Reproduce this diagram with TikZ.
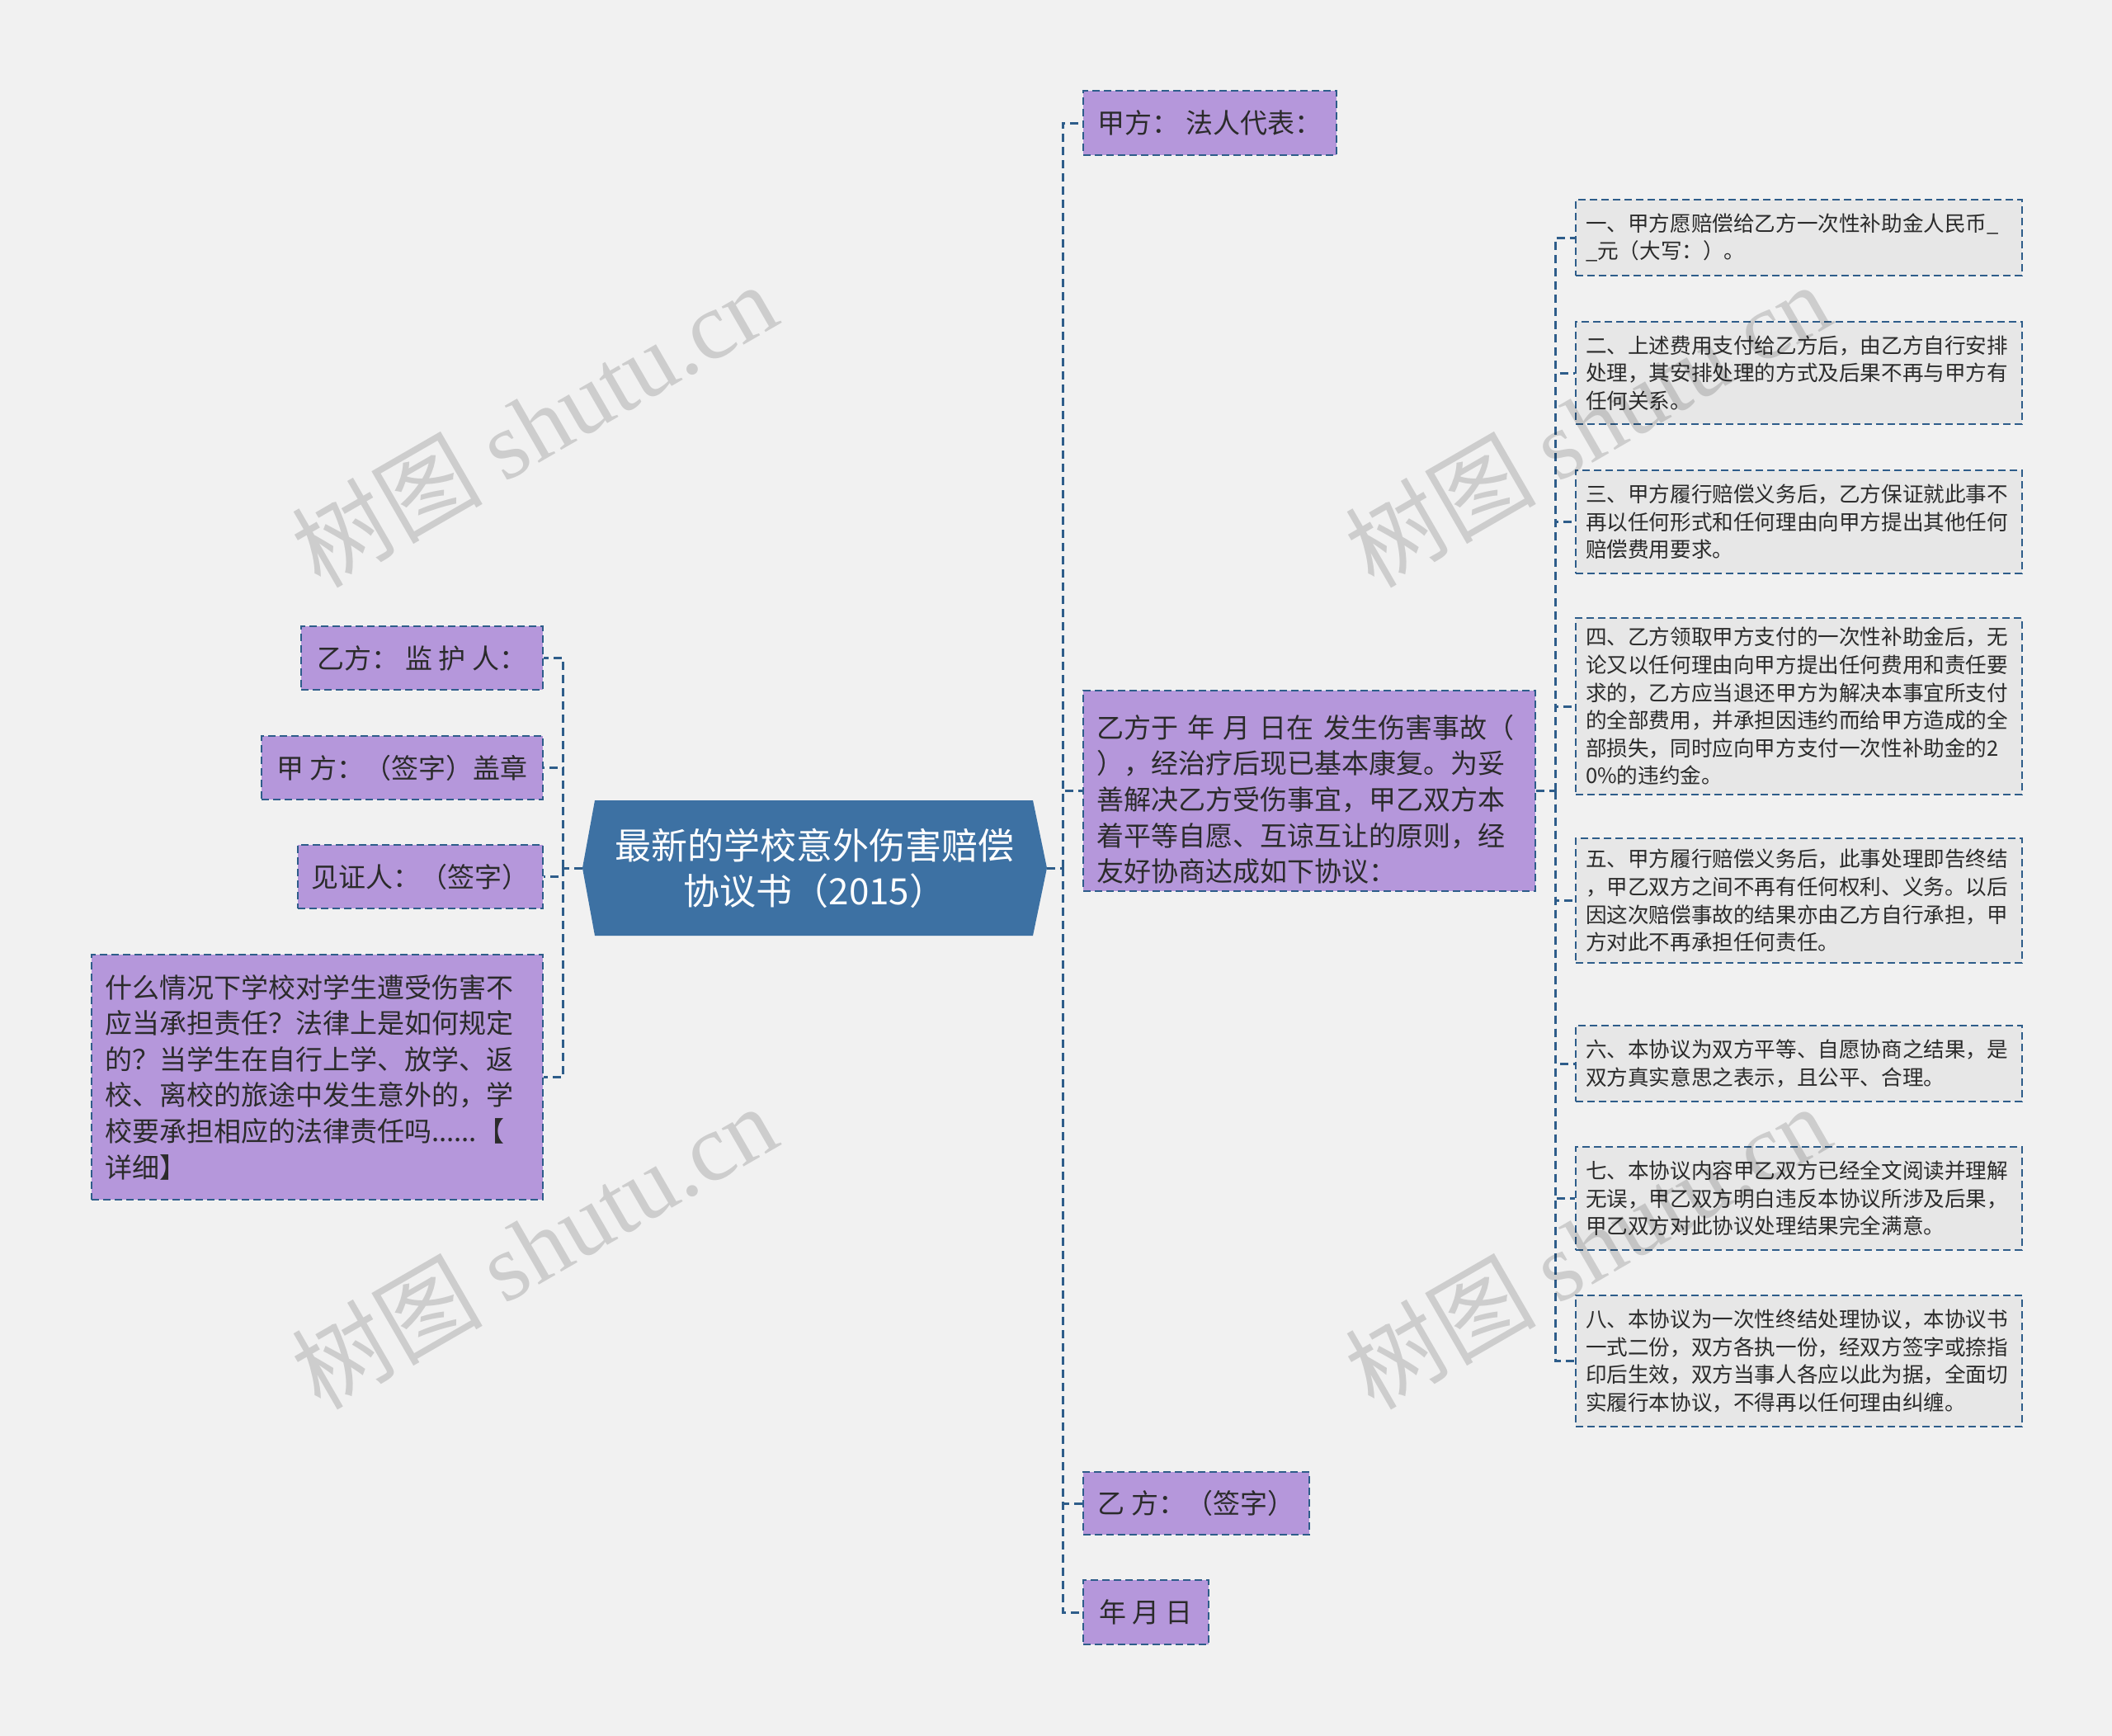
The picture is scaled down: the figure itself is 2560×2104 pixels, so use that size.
\documentclass[tikz,border=0pt]{standalone}
\usepackage{fontspec}
\setmainfont{Noto Sans CJK SC}
\newfontfamily\wmserif{Liberation Serif}
\definecolor{bgcol}{HTML}{F1F1F1}
\definecolor{lilac}{HTML}{B597DB}
\definecolor{pale}{HTML}{E7E7E7}
\definecolor{edge}{HTML}{2E5D8A}
\definecolor{rootblue}{HTML}{3D71A3}
\definecolor{ink}{HTML}{2B2B2B}
\tikzset{link/.style = {draw=edge, line width=1.5pt, dash pattern=on 5pt off 3pt}}
\tikzset{wh/.style 2 args = {minimum width={#1*0.5pt}, minimum height={#2*0.5pt}}}
\tikzset{leaf/.style = {fill=lilac, draw=edge, line width=1.1pt, dash pattern=on 4.5pt off 2.5pt,
                        text=ink, inner xsep=8pt, font=\fontsize{16.5}{21.8}\selectfont}}
\tikzset{item/.style = {fill=pale, draw=edge, line width=1.1pt, dash pattern=on 4.5pt off 2.5pt,
                        text=ink, align=left, inner xsep=6pt, text width=258.5pt,
                        font=\fontsize{12.8}{16.8}\selectfont}}
\tikzset{hub/.style = {text=white, align=center, wh={563}{164}, font=\fontsize{22}{27.5}\selectfont}}
\tikzset{wmark/.style = {rotate=30, text=black, opacity=0.15, font=\fontsize{58}{58}\selectfont}}

\begin{document}
\begin{tikzpicture}[x=0.5pt, y=-0.5pt]
  \fill [bgcol] (0, 0) rectangle (2560, 2104);
  \useasboundingbox (0, 0) rectangle (2560, 2104);
  % root
  \fill [rootblue] (706, 1052) -- (721, 970) -- (1252, 970) -- (1269, 1052)
                   -- (1252, 1134) -- (721, 1134) -- cycle;
  \node (root) [hub] at (987.5, 1052) {最新的学校意外伤害赔偿\\协议书（2015）};
  \coordinate (rspine) at (1288, 1052);
  \coordinate (lspine) at (682, 1052);
  \coordinate (sspine) at (1885, 958.5);
  % right branch
  \node (rep) [leaf, wh={307}{78}] at (1466.5, 149) {甲方：\ 法人代表：};
  \node (accord) [leaf, wh={548}{243}, align=left, text width=258pt] at (1587, 958.5)
    {\rule{0pt}{24.5pt}乙方于 年 月 日在 发生伤害事故（\\），经治疗后现已基本康复。为妥\\善解决乙方受伤事宜，甲乙双方本\\着平等自愿、互谅互让的原则，经\\友好协商达成如下协议：};
  \node (signb) [leaf, wh={274}{76}] at (1450, 1822) {乙 方：（签字）};
  \node (date) [leaf, wh={152}{78}] at (1389, 1954) {年 月 日};
  % left branch
  \node (guard) [leaf, wh={293}{77}] at (511.5, 797.5) {乙方：\ 监 护 人：};
  \node (seal) [leaf, wh={341}{77}] at (487.5, 930.5) {甲 方：（签字）盖章};
  \node (witness) [leaf, wh={297}{77}] at (509.5, 1062.5) {见证人：（签字）};
  \node (query) [leaf, wh={547}{297}, align=left, text width=257.5pt] at (384.5, 1305.5)
    {什么情况下学校对学生遭受伤害不\\应当承担责任？法律上是如何规定\\的？当学生在自行上学、放学、返\\校、离校的旅途中发生意外的，学\\校要承担相应的法律责任吗......【\\详细】};
  % clauses
  \node (item1) [item, wh={541}{92}] at (2180.5, 288)
    {一、甲方愿赔偿给乙方一次性补助金人民币\_\\\_元（大写：）。};
  \node (item2) [item, wh={541}{124}] at (2180.5, 452)
    {二、上述费用支付给乙方后，由乙方自行安排\\处理，其安排处理的方式及后果不再与甲方有\\任何关系。};
  \node (item3) [item, wh={541}{125}] at (2180.5, 632.5)
    {三、甲方履行赔偿义务后，乙方保证就此事不\\再以任何形式和任何理由向甲方提出其他任何\\赔偿费用要求。};
  \node (item4) [item, wh={541}{214}] at (2180.5, 856)
    {四、乙方领取甲方支付的一次性补助金后，无\\论又以任何理由向甲方提出任何费用和责任要\\求的，乙方应当退还甲方为解决本事宜所支付\\的全部费用，并承担因违约而给甲方造成的全\\部损失，同时应向甲方支付一次性补助金的2\\0\%的违约金。};
  \node (item5) [item, wh={541}{151}] at (2180.5, 1091.5)
    {五、甲方履行赔偿义务后，此事处理即告终结\\，甲乙双方之间不再有任何权利、义务。以后\\因这次赔偿事故的结果亦由乙方自行承担，甲\\方对此不再承担任何责任。};
  \node (item6) [item, wh={541}{92}] at (2180.5, 1289)
    {六、本协议为双方平等、自愿协商之结果，是\\双方真实意思之表示，且公平、合理。};
  \node (item7) [item, wh={541}{125}] at (2180.5, 1452.5)
    {七、本协议内容甲乙双方已经全文阅读并理解\\无误，甲乙双方明白违反本协议所涉及后果，\\甲乙双方对此协议处理结果完全满意。};
  \node (item8) [item, wh={541}{159}] at (2180.5, 1649.5)
    {八、本协议为一次性终结处理协议，本协议书\\一式二份，双方各执一份，经双方签字或捺指\\印后生效，双方当事人各应以此为据，全面切\\实履行本协议，不得再以任何理由纠缠。};
  % connectors
  \draw [link] (root.east) -- (rspine);
  \draw [link] (root.west) -- (lspine);
  \foreach \n in {rep, accord, signb, date}
    \draw [link] (rspine) |- (\n.west);
  \foreach \n in {guard, seal, witness, query}
    \draw [link] (lspine) |- (\n.east);
  \draw [link] (accord.east) -- (sspine);
  \foreach \n in {1,...,8}
    \draw [link] (sspine) |- (item\n.west);
  % watermarks
  \node (wm1) [wmark] at (647, 514) {树图 {\wmserif shutu.cn}};
  \node (wm2) [wmark] at (1924, 514) {树图 {\wmserif shutu.cn}};
  \node (wm3) [wmark] at (647, 1510) {树图 {\wmserif shutu.cn}};
  \node (wm4) [wmark] at (1924, 1510) {树图 {\wmserif shutu.cn}};
\end{tikzpicture}
\end{document}
